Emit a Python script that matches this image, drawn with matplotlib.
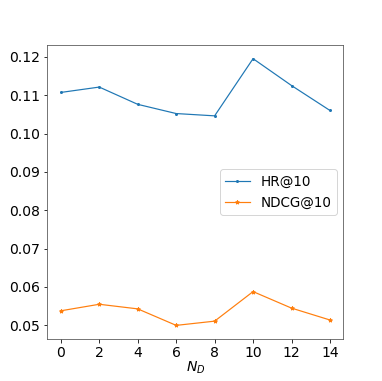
import matplotlib
matplotlib.use("Agg")
import matplotlib.pyplot as plt

x_vals = [0, 2, 4, 6, 8, 10, 12, 14]
hr10 = [0.1107, 0.1121, 0.1076, 0.1052, 0.1046, 0.1195, 0.1125, 0.1060]
ndcg10 = [0.0538, 0.0555, 0.0543, 0.0500, 0.0511, 0.0588, 0.0545, 0.0514]
x_ticks = [0, 2, 4, 6, 8, 10, 12, 14]

dpi = 72
fig = plt.figure(figsize=(382 / dpi, 381 / dpi), dpi=dpi)
ax = fig.add_axes([0.124, 0.111, 0.775, 0.770])
ax.plot(x_vals, hr10, marker='.', markersize=4, linewidth=1.2, color='#1f77b4', label='HR@10')
ax.plot(x_vals, ndcg10, marker='*', markersize=4, linewidth=1.2, color='#ff7f0e', label='NDCG@10')
ax.set_xticks(x_ticks)
ax.tick_params(labelsize=14)
for s in ax.spines.values():
    s.set_color('#555555')
ax.set_xlabel('$N_D$', fontsize=14, labelpad=0)
ax.legend(loc='center right', fontsize=13.5, handlelength=1.8)
fig.savefig('out.png', dpi=dpi)
